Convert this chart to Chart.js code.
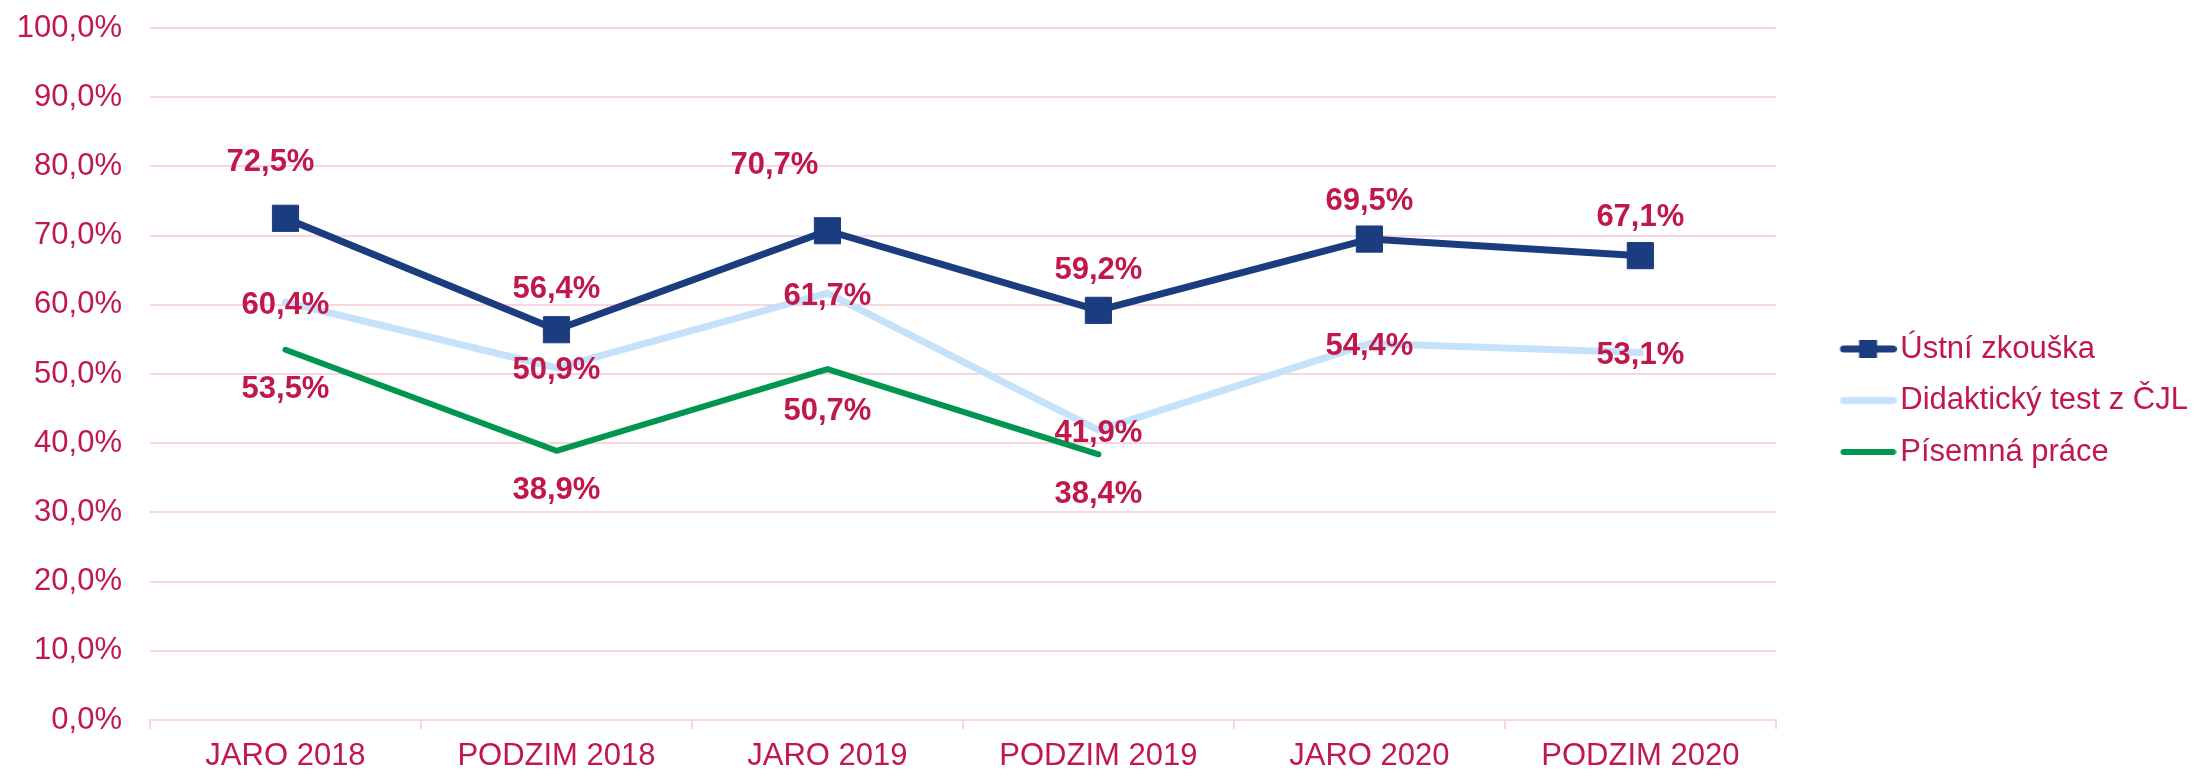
<!DOCTYPE html>
<html lang="cs">
<head>
<meta charset="utf-8">
<title>Úspěšnost maturitní zkoušky</title>
<script src="https://cdn.jsdelivr.net/npm/chart.js@4"></script>
<style>
  html, body { margin: 0; padding: 0; background: #ffffff; }
  #wrap { width: 2198px; height: 773px; }
</style>
</head>
<body>
<div id="wrap"><canvas id="chart"></canvas></div>
<script>
// data
const terms = ['JARO 2018', 'PODZIM 2018', 'JARO 2019', 'PODZIM 2019', 'JARO 2020', 'PODZIM 2020'];
const ustniZkouska = [72.5, 56.4, 70.7, 59.2, 69.5, 67.1];
const didaktickyTest = [60.4, 50.9, 61.7, 41.9, 54.4, 53.1];
const pisemnaPrace = [53.5, 38.9, 50.7, 38.4, null, null];
const yTickValues = [0, 10, 20, 30, 40, 50, 60, 70, 80, 90, 100];

// label placement (dx, dy in px from the point)
const labelShift = [
    [[-15, -56], [0, -40], [-53, -65], [0, -40], [0, -38], [0, -38]],
    [[0, 3], [0, 3], [0, 3], [0, 3], [0, 3], [0, 3]],
    [[0, 40], [0, 40], [0, 42], [0, 40], [0, 40], [0, 40]]
];

const crimson = '#C0184B';
const darkBlue = '#1B3C7E';
const lightBlue = '#C5E2FA';
const green = '#00964F';
const gridPink = '#F8D6E1';
const fontFamily = '"Liberation Sans", Arial, sans-serif';

Chart.defaults.font.family = fontFamily;
Chart.defaults.color = crimson;

function formatPct(v) {
    return v.toFixed(1).replace('.', ',') + '%';
}

// legend symbol: short line, optionally with a square marker
function legendIcon(color, width, marker) {
    const c = document.createElement('canvas');
    c.width = 112;
    c.height = 24;
    const g = c.getContext('2d');
    g.strokeStyle = color;
    g.lineWidth = width;
    g.lineCap = 'round';
    g.beginPath();
    g.moveTo(59, 12);
    g.lineTo(108.5, 12);
    g.stroke();
    if (marker) {
        g.fillStyle = color;
        g.fillRect(74.5, 3, 18, 18);
    }
    return c;
}

const icons = [
    legendIcon(darkBlue, 7, true),
    legendIcon(lightBlue, 7, false),
    legendIcon(green, 6, false)
];

const valueLabels = {
    id: 'valueLabels',
    afterDatasetsDraw(chart) {
        const ctx = chart.ctx;
        ctx.save();
        ctx.font = 'bold 31px ' + fontFamily;
        ctx.fillStyle = crimson;
        ctx.textAlign = 'center';
        ctx.textBaseline = 'middle';
        chart.data.datasets.forEach((ds, i) => {
            if (!chart.isDatasetVisible(i)) return;
            const meta = chart.getDatasetMeta(i);
            meta.data.forEach((pt, j) => {
                const v = ds.data[j];
                if (v === null || v === undefined) return;
                const s = labelShift[i][j];
                ctx.fillText(formatPct(v), pt.x + s[0], pt.y + s[1]);
            });
        });
        ctx.restore();
    }
};

const ctx = document.getElementById('chart').getContext('2d');

new Chart(ctx, {
    type: 'line',
    data: {
        labels: terms,
        datasets: [
            {
                label: 'Ústní zkouška',
                data: ustniZkouska,
                borderColor: darkBlue,
                backgroundColor: darkBlue,
                borderWidth: 7,
                pointStyle: 'rect',
                pointRadius: 18.5,
                pointHoverRadius: 18.5,
                pointBorderWidth: 1,
                pointBackgroundColor: darkBlue,
                pointBorderColor: darkBlue
            },
            {
                label: 'Didaktický test z ČJL',
                data: didaktickyTest,
                borderColor: lightBlue,
                backgroundColor: lightBlue,
                borderWidth: 7,
                pointRadius: 0,
                pointHoverRadius: 0
            },
            {
                label: 'Písemná práce',
                data: pisemnaPrace,
                borderColor: green,
                backgroundColor: green,
                borderWidth: 6,
                pointRadius: 0,
                pointHoverRadius: 0
            }
        ]
    },
    options: {
        responsive: true,
        maintainAspectRatio: false,
        animation: false,
        elements: {
            line: { tension: 0, borderCapStyle: 'round', borderJoinStyle: 'round' }
        },
        layout: {
            padding: { top: 28, right: 0, bottom: 0, left: 0 }
        },
        scales: {
            x: {
                offset: true,
                grid: {
                    offset: true,
                    drawOnChartArea: false,
                    drawTicks: true,
                    tickLength: 9,
                    color: gridPink,
                    lineWidth: 2
                },
                border: { color: gridPink, width: 2 },
                ticks: {
                    color: crimson,
                    padding: 9,
                    font: { size: 31 }
                },
                afterFit(scale) { scale.height = 53; }
            },
            y: {
                min: 0,
                max: 100,
                afterBuildTicks(scale) {
                    scale.ticks = yTickValues.map(v => ({ value: v }));
                },
                grid: {
                    drawTicks: false,
                    color: gridPink,
                    lineWidth: 2
                },
                border: { display: false },
                ticks: {
                    color: crimson,
                    padding: 28,
                    font: { size: 31 },
                    callback: v => formatPct(v)
                },
                afterFit(scale) {
                    scale.width = 150;
                    scale.paddingTop = 0;
                    scale.paddingBottom = 0;
                }
            }
        },
        plugins: {
            legend: {
                position: 'right',
                align: 'center',
                labels: {
                    usePointStyle: true,
                    pointStyleWidth: 88.5,
                    padding: 20.5,
                    color: crimson,
                    font: { size: 31 },
                    generateLabels(chart) {
                        const items = Chart.defaults.plugins.legend.labels.generateLabels(chart);
                        items.forEach(item => {
                            item.pointStyle = icons[item.datasetIndex];
                            item.fontColor = crimson;
                        });
                        return items;
                    }
                }
            },
            tooltip: { enabled: false }
        }
    },
    plugins: [valueLabels]
});
</script>
</body>
</html>
